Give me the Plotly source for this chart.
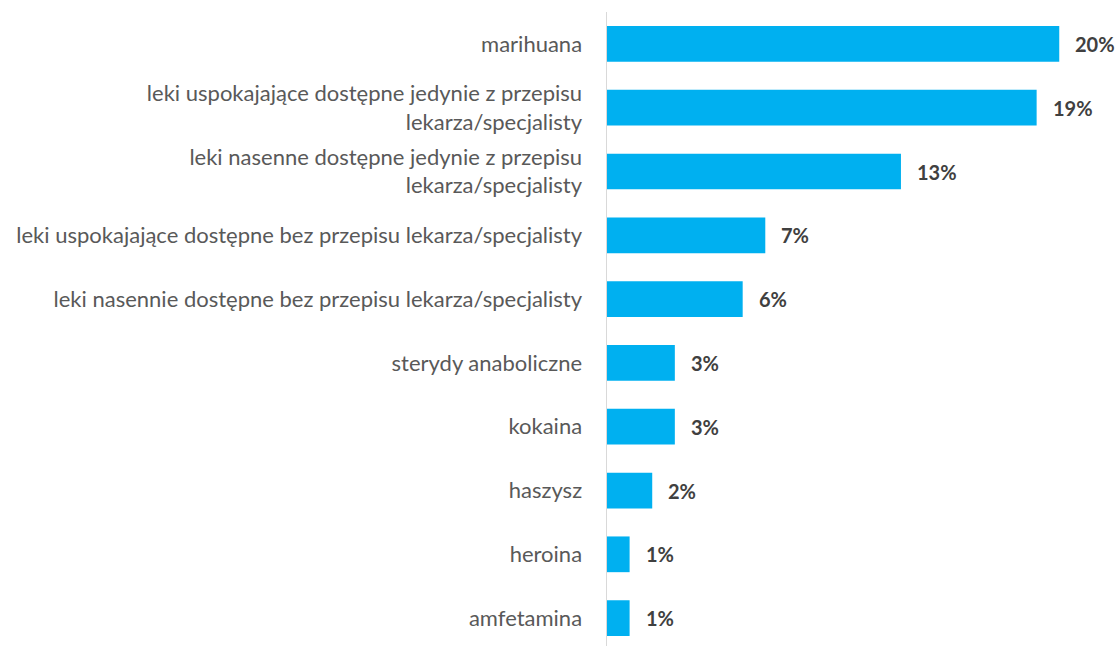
import plotly.graph_objects as go

categories = [
    "marihuana",
    "leki uspokajające dostępne jedynie z przepisu<br>lekarza/specjalisty",
    "leki nasenne dostępne jedynie z przepisu<br>lekarza/specjalisty",
    "leki uspokajające dostępne bez przepisu lekarza/specjalisty",
    "leki nasennie dostępne bez przepisu lekarza/specjalisty",
    "sterydy anaboliczne",
    "kokaina",
    "haszysz",
    "heroina",
    "amfetamina",
]
values = [20, 19, 13, 7, 6, 3, 3, 2, 1, 1]
value_labels = ["20%", "19%", "13%", "7%", "6%", "3%", "3%", "2%", "1%", "1%"]

FONT = "Lato"

fig = go.Figure()
fig.add_trace(go.Bar(
    x=values, y=categories, orientation="h",
    marker=dict(color="#00B0F0", line=dict(width=0)),
    width=0.56,
    hoverinfo="skip",
))

for c, v, t in zip(categories, values, value_labels):
    fig.add_annotation(x=v, y=c, text="<b>%s</b>" % t, showarrow=False,
                       xanchor="left", xshift=14,
                       font=dict(family=FONT, size=20, color="#404040"))

fig.update_layout(
    width=1119, height=646,
    margin=dict(l=607, r=10, t=12, b=0, autoexpand=False),
    paper_bgcolor="white", plot_bgcolor="white",
    showlegend=False,
    font=dict(family=FONT, size=22, color="#595959"),
    xaxis=dict(range=[0, 22.2], showgrid=False, showticklabels=False,
               zeroline=False, showline=False, fixedrange=True),
    yaxis=dict(type="category", categoryorder="array", categoryarray=categories,
               range=[9.437, -0.5], showgrid=False, zeroline=False,
               showline=True, linecolor="#D9D9D9", linewidth=1.5,
               ticks="", ticklabelstandoff=19, automargin=False,
               fixedrange=True,
               tickfont=dict(family=FONT, size=22, color="#595959")),
)

fig.write_html("out.html",
               config={"displayModeBar": False, "staticPlot": True},
               post_script="document.body.style.margin='0';document.body.style.overflow='hidden';")
